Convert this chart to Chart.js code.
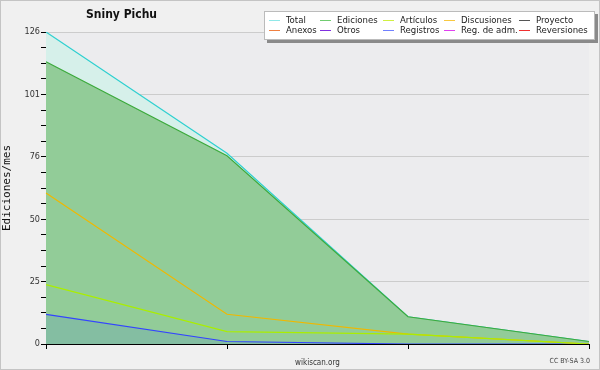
<!DOCTYPE html>
<html lang="es">
<head>
    <meta charset="UTF-8">
    <title>Sniny Pichu</title>
    <script src="https://cdn.jsdelivr.net/npm/chart.js"></script>
    <style>
        body { margin: 0; background: #f0f0f0; }
        #wrap { position: relative; width: 600px; height: 370px; font-family: "DejaVu Sans Condensed", "DejaVu Sans", sans-serif; }
        #frame { position: absolute; left: 0; top: 0; width: 598px; height: 368px; border: 1px solid #c4c4c4; pointer-events: none; }
        #title { position: absolute; left: 86px; top: 7px; font-size: 12px; font-weight: bold; color: #111; }
        #legend { position: absolute; left: 264px; top: 11px; width: 329px; height: 27px; background: #fff; border: 1px solid #bbb; box-shadow: 3px 3px 0 #8a8a8a; font-size: 9.5px; color: #222; }
        .item { position: absolute; white-space: nowrap; line-height: 10px; }
        .item i { position: absolute; left: 0; top: 5px; width: 11px; height: 1px; }
        .item span { position: absolute; left: 17px; top: 0; }
        #cc { position: absolute; right: 10px; top: 357px; font-size: 7px; color: #444; }
    </style>
</head>
<body>
<div id="wrap">
    <canvas id="myChart" width="600" height="370"></canvas>
    <div id="title">Sniny Pichu</div>
    <div id="legend"></div>
    <div id="cc">CC BY-SA 3.0</div>
    <div id="frame"></div>
</div>
<script>
    // datos (4 periodos)
    const periods = ["1", "2", "3", "4"];
    const total = [126, 77, 11, 1];
    const ediciones = [114, 76, 11, 1];
    const articulos = [24, 5, 4, 0];
    const discusiones = [61, 12, 4, 0];
    const registros = [12, 1, 0, 0];

    const legendNames = ["Total", "Ediciones", "Artículos", "Discusiones", "Proyecto",
                         "Anexos", "Otros", "Registros", "Reg. de adm.", "Reversiones"];
    const legendColors = ["#90e8e8", "#70cc70", "#d0f040", "#f8c840", "#555555",
                          "#f08040", "#8030e0", "#7080ff", "#e040f0", "#f03030"];

    // leyenda html, 5 columnas x 2 filas
    const colX = [4, 55, 118, 179, 254];
    const legend = document.getElementById("legend");
    legendNames.forEach((name, i) => {
        const d = document.createElement("div");
        d.className = "item";
        d.style.left = colX[i % 5] + "px";
        d.style.top = (i < 5 ? 3 : 13) + "px";
        d.innerHTML = `<i style="background:${legendColors[i]}"></i><span>${name}</span>`;
        legend.appendChild(d);
    });

    const plotBg = {
        id: "plotBg",
        beforeDraw(chart) {
            const a = chart.chartArea;
            const ctx = chart.ctx;
            ctx.save();
            ctx.fillStyle = "#ececee";
            ctx.fillRect(a.left, a.top, a.right - a.left, a.bottom - a.top);
            ctx.restore();
        }
    };

    function line(label, data, color, fill, fillColor, order) {
        return {
            label: label,
            data: data,
            borderColor: color,
            backgroundColor: fillColor || color,
            borderWidth: 1.2,
            pointRadius: 0,
            tension: 0,
            fill: fill,
            order: order
        };
    }

    const ctx = document.getElementById("myChart").getContext("2d");
    new Chart(ctx, {
        type: "line",
        data: {
            labels: periods,
            datasets: [
                line("Total", total, "#30d0d0", "origin", "#d6f0ea", 10),
                line("Ediciones", ediciones, "#3caa3c", "origin", "#92cc98", 9),
                line("Registros", registros, "#3344ff", "origin", "#84bea2", 5),
                line("Artículos", articulos, "#aaee00", false, null, 1),
                line("Discusiones", discusiones, "#f0b800", false, null, 1)
            ]
        },
        options: {
            responsive: false,
            animation: false,
            layout: { padding: { top: 32, right: 11, left: 0, bottom: 0 } },
            plugins: {
                legend: { display: false },
                tooltip: { enabled: false }
            },
            scales: {
                x: {
                    offset: false,
                    grid: { drawOnChartArea: false, drawTicks: true, tickLength: 5, tickColor: "#000" },
                    border: { color: "#000", width: 1 },
                    ticks: { callback: () => "", padding: 0 },
                    title: { display: true, text: "wikiscan.org", font: { size: 8, family: "DejaVu Sans Condensed" }, color: "#333", padding: { top: 0, bottom: 2 } },
                    afterFit(scale) { scale.height = 26; }
                },
                y: {
                    min: 0,
                    max: 126,
                    afterBuildTicks(scale) {
                        const t = [];
                        for (let i = 0; i <= 20; i++) t.push({ value: i * 6.3 });
                        scale.ticks = t;
                    },
                    grid: {
                        color: c => (c.index % 4 === 0 ? "#cccccc" : "rgba(0,0,0,0)"),
                        tickColor: "#000",
                        tickLength: 5,
                        drawTicks: true
                    },
                    border: { color: "#000", width: 1 },
                    ticks: {
                        autoSkip: false,
                        padding: 1,
                        color: "#333",
                        font: { size: 9, family: "DejaVu Sans Condensed" },
                        callback: (v, i) => (i % 4 === 0 ? String(Math.round(v)) : "")
                    },
                    title: { display: true, text: "Ediciones/mes", font: { size: 11, family: "DejaVu Sans Mono" }, color: "#111", padding: { top: 1, bottom: 0 } },
                    afterFit(scale) { scale.width = 46; }
                }
            }
        },
        plugins: [plotBg]
    });
</script>
</body>
</html>
